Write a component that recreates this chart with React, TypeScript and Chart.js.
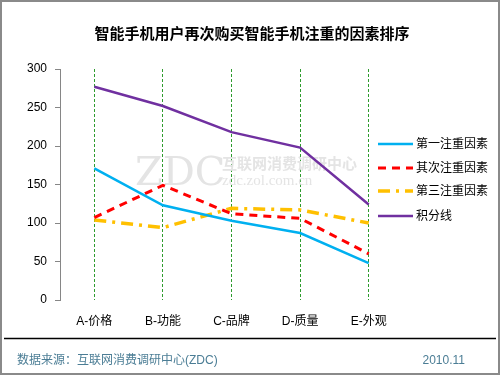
import React, { useEffect, useRef } from "react";
import { Chart, registerables } from "chart.js";

Chart.register(...registerables);

const categories = ["A-价格", "B-功能", "C-品牌", "D-质量", "E-外观"];
const seriesNames = ["第一注重因素", "其次注重因素", "第三注重因素", "积分线"];
const firstFactor = [171, 123, 103, 87, 48];
const secondFactor = [107, 149, 112, 106, 60];
const thirdFactor = [104, 94, 119, 117, 100];
const scoreLine = [277, 252, 218, 198, 124];
const yTicks = [0, 50, 100, 150, 200, 250, 300];

const title = "智能手机用户再次购买智能手机注重的因素排序";
const sourceText = "数据来源：互联网消费调研中心(ZDC)";
const dateText = "2010.11";

const FONT = "'Liberation Sans', 'Noto Sans CJK SC', sans-serif";

const colors = ["#00B0F0", "#FF0000", "#FFC000", "#7030A0"];
const dashes: number[][] = [[], [8, 6], [12, 6, 3, 6], []];
const widths = [2.5, 3, 3.5, 2.5];

const decorPlugin = {
  id: "decor",
  beforeDatasetsDraw(chart: any) {
    const ctx = chart.ctx;
    ctx.save();
    ctx.fillStyle = "#e4e4e4";
    ctx.font = "40px 'DejaVu Serif', serif";
    ctx.textBaseline = "alphabetic";
    ctx.textAlign = "left";
    ctx.fillText("ZDC", 135, 185);
    ctx.font = "bold 15px 'Noto Sans CJK SC'";
    ctx.fillText("互联网消费调研中心", 222, 169);
    ctx.font = "15px 'Liberation Serif'";
    ctx.fillText("zdc.zol.com.cn", 222, 185);
    ctx.restore();
  },
  afterDraw(chart: any) {
    const ctx = chart.ctx;
    ctx.save();
    // title
    ctx.fillStyle = "#000";
    ctx.font = "bold 15px 'Noto Sans CJK SC', sans-serif";
    ctx.textAlign = "center";
    ctx.textBaseline = "middle";
    ctx.fillText(title, 252, 33);
    // legend
    ctx.textAlign = "left";
    ctx.font = "12px " + FONT;
    const ys = [144, 168, 191, 216];
    for (let i = 0; i < seriesNames.length; i++) {
      ctx.beginPath();
      ctx.strokeStyle = colors[i];
      ctx.lineWidth = widths[i];
      ctx.setLineDash(dashes[i]);
      ctx.moveTo(378, ys[i]);
      ctx.lineTo(413, ys[i]);
      ctx.stroke();
      ctx.setLineDash([]);
      ctx.fillStyle = "#000";
      ctx.fillText(seriesNames[i], 416, ys[i] + 1);
    }
    // bottom separator
    ctx.beginPath();
    ctx.strokeStyle = "#000";
    ctx.lineWidth = 1.5;
    ctx.moveTo(4, 338.5);
    ctx.lineTo(496, 338.5);
    ctx.stroke();
    // footer
    ctx.fillStyle = "#4B7D95";
    ctx.font = "12px " + FONT;
    ctx.fillText(sourceText, 17, 361);
    ctx.textAlign = "right";
    ctx.fillText(dateText, 465, 361);
    // outer border
    ctx.strokeStyle = "#8a8a8a";
    ctx.lineWidth = 2;
    ctx.strokeRect(1, 1, 498, 373);
    ctx.restore();
  },
};

export default function App() {
  const ref = useRef<HTMLCanvasElement>(null);
  useEffect(() => {
    document.body.style.margin = "0";
    const dataArrays = [firstFactor, secondFactor, thirdFactor, scoreLine];
    const chart = new Chart(ref.current as HTMLCanvasElement, {
      type: "line",
      data: {
        labels: categories,
        datasets: dataArrays.map((d, i) => ({
          label: seriesNames[i],
          data: d,
          borderColor: colors[i],
          backgroundColor: colors[i],
          borderWidth: widths[i],
          borderDash: dashes[i],
          pointRadius: 0,
          tension: 0,
          fill: false,
        })),
      },
      options: {
        responsive: false,
        animation: false,
        layout: { padding: { left: 0, top: 69, right: 97, bottom: 0 } },
        plugins: {
          legend: { display: false },
          title: { display: false },
          tooltip: { enabled: false },
        },
        scales: {
          x: {
            offset: true,
            grid: {
              offset: false,
              display: true,
              drawTicks: false,
              color: "#2E9B2E",
              lineWidth: 1,
            },
            border: { display: false, dash: [3, 2] },
            ticks: {
              color: "#000",
              font: { size: 12, family: FONT },
              padding: 14,
              maxRotation: 0,
              autoSkip: false,
            },
            afterFit: (s: any) => {
              s.height = 75;
            },
          },
          y: {
            min: 0,
            max: 300,
            afterBuildTicks: (s: any) => {
              s.ticks = yTicks.map((v) => ({ value: v }));
            },
            grid: {
              drawOnChartArea: false,
              drawTicks: true,
              tickLength: 5,
              color: "#868686",
            },
            border: { display: true, color: "#868686", width: 1 },
            ticks: {
              color: "#000",
              font: { size: 12, family: FONT },
              padding: 8,
            },
            afterFit: (s: any) => {
              s.width = 60;
            },
          },
        },
      },
      plugins: [decorPlugin],
    } as any);
    return () => chart.destroy();
  }, []);
  return <canvas ref={ref} width={500} height={375} style={{ display: "block" }} />;
}
